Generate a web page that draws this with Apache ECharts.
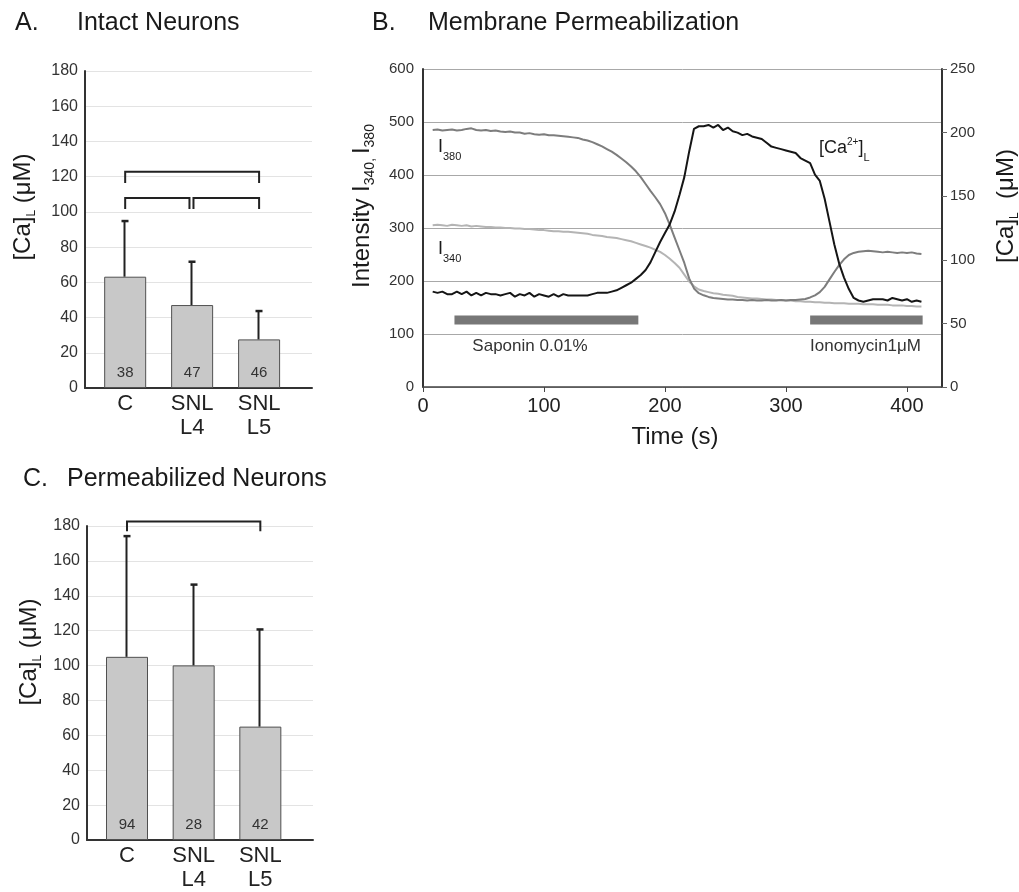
<!DOCTYPE html>
<html>
<head>
<meta charset="utf-8">
<script src="https://cdn.jsdelivr.net/npm/echarts@6/dist/echarts.min.js"></script>
<style>
html,body{margin:0;padding:0;background:#fff;}
#chart{width:1019px;height:892px;}
</style>
</head>
<body>
<div id="chart"></div>
<script>
// ---------- DATA ----------
const categories = ['C', 'SNL\nL4', 'SNL\nL5'];
const catPos = [1, 2, 3];
const intactMean = [63.2, 47.1, 27.6];
const intactSD = [31.6, 24.6, 16.1];
const intactN = [38, 47, 46];
const permMean = [105, 100.1, 65];
const permSD = [69.2, 46.3, 55.7];
const permN = [94, 28, 42];
// brackets: [fromCat, toCat, topValue, legBottomValue]
const bracketsA = [[1, 3, 122.8, 116.4], [1, 1.96, 107.9, 101.6], [2.02, 3, 107.9, 101.6]];
const bracketsC = [[1, 3, 182.6, 177]];

const time = [8,12,16,20,24,28,32,36,40,44,48,52,56,60,64,68,72,76,80,84,88,92,96,100,104,108,112,116,120,124,128,132,136,140,144,148,152,156,160,164,168,172,176,180,184,188,192,196,200,204,208,212,216,220,224,228,232,236,240,244,248,252,256,260,264,268,272,276,280,284,288,292,296,300,304,308,312,316,320,324,328,332,336,340,344,348,352,356,360,364,368,372,376,380,384,388,392,396,400,404,408,412];
const i380 = [485,486,484,485,486,484,485,487,488,485,484,485,483,484,482,481,482,480,480,478,479,477,476,477,475,475,474,473,472,471,470,467,465,462,458,454,449,444,438,431,424,416,407,396,383,370,358,345,328,306,282,258,234,205,186,177,173,170,168,167,166,165,165,164,164,163,164,163,163,164,163,163,164,163,164,164,165,166,169,173,179,189,203,217,230,241,249,253,255,256,257,256,255,254,255,254,253,254,253,254,252,251];
const i340 = [305,306,305,304,306,305,304,305,303,304,303,302,302,301,301,300,300,299,299,298,298,297,296,296,295,294,294,293,293,292,291,290,289,287,286,285,283,282,281,279,277,275,272,269,266,263,259,255,249,242,234,225,212,199,190,184,181,179,177,176,174,173,172,170,169,168,167,167,166,165,165,164,164,163,163,162,162,161,161,160,160,159,159,158,158,158,157,157,157,156,156,156,155,155,155,154,154,154,153,153,152,152];
const caL = [75,74,75,73,73,75,73,75,72,74,72,74,73,73,72,73,74,71,73,72,74,71,73,72,71,73,71,73,72,72,72,72,72,73,74,74,74,75,76,78,80,82,85,88,92,98,106,114,121,128,138,151,165,185,203,205,205,206,204,206,202,204,201,200,198,199,197,196,195,192,189,188,187,186,185,184,180,178,176,167,162,148,130,112,97,86,77,70,68,67,68,69,69,69,68,70,69,68,69,67,68,67];
const saponinPeriod = [26, 178];
const ionomycinPeriod = [320, 413];

// ---------- HELPERS ----------
const FONT = '"Liberation Sans", Arial, Helvetica, sans-serif';
const txtColor = '#222';

function zip(a, b) { return a.map((v, i) => [v, b[i]]); }

function errRender(params, api) {
  const x = api.value(0), m = api.value(1), sd = api.value(2);
  const p0 = api.coord([x, m]);
  const p1 = api.coord([x, m + sd]);
  const px = Math.round(p0[0]) - 0.5;
  return {
    type: 'group',
    children: [
      {type: 'line', shape: {x1: px, y1: p0[1], x2: px, y2: p1[1]}, style: {stroke: '#222', lineWidth: 2}},
      {type: 'line', shape: {x1: px - 3, y1: p1[1], x2: px + 4, y2: p1[1]}, style: {stroke: '#222', lineWidth: 2.5}}
    ]
  };
}
function bracketRender(params, api) {
  const a = api.coord([api.value(0), api.value(3)]);
  const b = api.coord([api.value(0), api.value(2)]);
  const c = api.coord([api.value(1), api.value(2)]);
  const d = api.coord([api.value(1), api.value(3)]);
  return {
    type: 'polyline',
    shape: {points: [a, b, c, d]},
    style: {stroke: '#222', lineWidth: 2, fill: null}
  };
}

function barGridAxes(gridIndex) {
  return {
    x: {
      type: 'value', gridIndex: gridIndex, min: 0.4, max: 3.79,
      splitLine: {show: false},
      axisLine: {show: true, onZero: false, lineStyle: {color: '#333', width: 2}},
      axisTick: {show: false},
      axisLabel: {
        customValues: catPos,
        formatter: v => categories[Math.round(v) - 1] || '',
        fontFamily: FONT, fontSize: 22, color: txtColor, lineHeight: 24,
        margin: 4, verticalAlign: 'top'
      }
    },
    y: {
      type: 'value', gridIndex: gridIndex, min: 0, max: 180, interval: 20,
      axisLine: {show: true, lineStyle: {color: '#333', width: 2}},
      axisTick: {show: false},
      splitLine: {show: true, lineStyle: {color: '#e3e3e3', width: 1}},
      axisLabel: {fontFamily: FONT, fontSize: 16, color: '#333', margin: 7}
    }
  };
}
const axA = barGridAxes(0);
const axC = barGridAxes(2);

function barSeries(idx, means, ns) {
  return {
    type: 'bar', xAxisIndex: idx, yAxisIndex: idx,
    data: zip(catPos, means),
    barWidth: 42,
    itemStyle: {color: '#c8c8c8', borderColor: '#505050', borderWidth: 1},
    label: {
      show: true, position: 'insideBottom', distance: 8,
      formatter: p => String(ns[p.dataIndex]),
      fontFamily: FONT, fontSize: 15, color: '#333'
    },
    silent: true, animation: false
  };
}
function errSeries(idx, means, sds) {
  return {
    type: 'custom', xAxisIndex: idx, yAxisIndex: idx,
    data: catPos.map((x, i) => [x, means[i], sds[i]]),
    renderItem: errRender, clip: false, z: 5, animation: false
  };
}
function bracketSeries(idx, br) {
  return {
    type: 'custom', xAxisIndex: idx, yAxisIndex: idx,
    data: br, renderItem: bracketRender, clip: false, z: 5, animation: false,
    encode: {x: [0, 1], y: [2, 3]}
  };
}

function txt(x, y, text, extra) {
  return {type: 'text', x: x, y: y, silent: true,
    style: Object.assign({text: text, fontFamily: FONT, fontSize: 25, fill: '#1a1a1a', textVerticalAlign: 'middle'}, extra || {})};
}
function richTxt(x, y, text, rich, extra) {
  return {type: 'text', x: x, y: y, silent: true,
    style: Object.assign({text: text, rich: rich, fontFamily: FONT, fill: '#1a1a1a', textVerticalAlign: 'middle'}, extra || {})};
}
const caNameRich = {
  m: {fontFamily: FONT, fontSize: 24, lineHeight: 30, verticalAlign: 'middle', color: '#1a1a1a'},
  s: {fontFamily: FONT, fontSize: 12, lineHeight: 12, verticalAlign: 'bottom', color: '#1a1a1a'}
};
const intRich = {
  m: {fontFamily: FONT, fontSize: 24, lineHeight: 30, verticalAlign: 'middle', color: '#1a1a1a'},
  s: {fontFamily: FONT, fontSize: 14, lineHeight: 12, verticalAlign: 'bottom', color: '#1a1a1a'}
};
const lblRich = {
  m: {fontFamily: FONT, fontSize: 18, lineHeight: 30, verticalAlign: 'middle', color: '#333'},
  s: {fontFamily: FONT, fontSize: 11, lineHeight: 13, verticalAlign: 'bottom', color: '#333'},
  p: {fontFamily: FONT, fontSize: 10, verticalAlign: 'top', padding: [4, 0, 0, 0], color: '#333'}
};

const option = {
  backgroundColor: '#fff',
  animation: false,
  grid: [
    {left: 85, top: 71, width: 227, height: 317},
    {left: 423, top: 69, width: 519, height: 318},
    {left: 87, top: 526, width: 226, height: 317}
  ],
  xAxis: [
    axA.x,
    {
      type: 'value', gridIndex: 1, min: 0, max: 429, interval: 100,
      splitLine: {show: false},
      axisLine: {show: true, onZero: false, lineStyle: {color: '#444', width: 1.5}},
      axisTick: {show: true, length: 5, lineStyle: {color: '#444'}},
      axisLabel: {fontFamily: FONT, fontSize: 20, color: txtColor, margin: 9, showMaxLabel: false}
    },
    axC.x
  ],
  yAxis: [
    axA.y,
    {
      type: 'value', gridIndex: 1, min: 0, max: 600, interval: 100,
      axisLine: {show: true, lineStyle: {color: '#333', width: 2}},
      axisTick: {show: false},
      splitLine: {show: true, lineStyle: {color: '#a8a8a8', width: 1}},
      axisLabel: {fontFamily: FONT, fontSize: 15, color: '#333', margin: 9}
    },
    axC.y,
    {
      type: 'value', gridIndex: 1, position: 'right', min: 0, max: 250, interval: 50,
      axisLine: {show: true, lineStyle: {color: '#333', width: 2}},
      axisTick: {show: true, length: 5, lineStyle: {color: '#666'}},
      splitLine: {show: false},
      axisLabel: {fontFamily: FONT, fontSize: 15, color: '#333', margin: 8}
    }
  ],
  series: [
    barSeries(0, intactMean, intactN),
    errSeries(0, intactMean, intactSD),
    bracketSeries(0, bracketsA),
    barSeries(2, permMean, permN),
    errSeries(2, permMean, permSD),
    bracketSeries(2, bracketsC),
    {
      name: 'I380', type: 'line', xAxisIndex: 1, yAxisIndex: 1,
      data: zip(time, i380), showSymbol: false, symbol: 'none',
      lineStyle: {color: '#7d7d7d', width: 2}, z: 3
    },
    {
      name: 'I340', type: 'line', xAxisIndex: 1, yAxisIndex: 1,
      data: zip(time, i340), showSymbol: false, symbol: 'none',
      lineStyle: {color: '#b4b4b4', width: 2}, z: 2
    },
    {
      name: 'CaL', type: 'line', xAxisIndex: 1, yAxisIndex: 3,
      data: zip(time, caL), showSymbol: false, symbol: 'none',
      lineStyle: {color: '#151515', width: 2}, z: 4
    },
    {
      name: 'Saponin', type: 'line', xAxisIndex: 1, yAxisIndex: 1,
      data: saponinPeriod.map(t => [t, 126.5]), showSymbol: false, symbol: 'none',
      lineStyle: {color: '#777', width: 9, cap: 'butt'}, z: 2
    },
    {
      name: 'Ionomycin', type: 'line', xAxisIndex: 1, yAxisIndex: 1,
      data: ionomycinPeriod.map(t => [t, 126.5]), showSymbol: false, symbol: 'none',
      lineStyle: {color: '#777', width: 9, cap: 'butt'}, z: 2
    }
  ],
  graphic: [
    // titles
    txt(15, 23, 'A.'),
    txt(77, 23, 'Intact Neurons'),
    txt(372, 23, 'B.'),
    txt(428, 23, 'Membrane Permeabilization'),
    txt(23, 479, 'C.'),
    txt(67, 479, 'Permeabilized Neurons'),
    // axis names
    richTxt(23, 207, '{m|[Ca]}{s|L}{m| (μM)}', caNameRich, {textAlign: 'center'}),
    richTxt(29, 652, '{m|[Ca]}{s|L}{m| (μM)}', caNameRich, {textAlign: 'center'}),
    richTxt(362, 206, '{m|Intensity I}{s|340, }{m|I}{s|380}', intRich, {textAlign: 'center'}),
    richTxt(1006, 206, '{m|[Ca]}{s|L}{m|  (μM)}', caNameRich, {textAlign: 'center'}),
    txt(675, 437, 'Time (s)', {fontSize: 24, textAlign: 'center'}),
    // in-plot annotations
    richTxt(438, 147, '{m|I}{s|380}', lblRich),
    richTxt(438, 249, '{m|I}{s|340}', lblRich),
    richTxt(819, 148, '{m|[Ca}{p|2+}{m|]}{s|L}', lblRich),
    txt(530, 346, 'Saponin 0.01%', {fontSize: 17, fill: '#333', textAlign: 'center'}),
    txt(921, 346, 'Ionomycin1μM', {fontSize: 17, fill: '#333', textAlign: 'right'})
  ]
};
// rotate axis names
[6, 7, 8, 9].forEach(i => { option.graphic[i].rotation = Math.PI / 2; });

const chart = echarts.init(document.getElementById('chart'), null, {renderer: 'canvas'});
chart.setOption(option);
</script>
</body>
</html>
